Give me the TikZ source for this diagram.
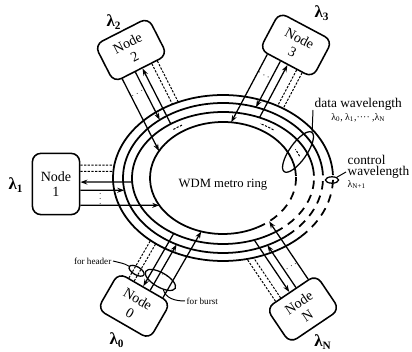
\documentclass[tikz,border=0pt]{standalone}
\usepackage{fontspec}
\setmainfont{Liberation Serif}
\usetikzlibrary{arrows.meta, calc, intersections, shapes.geometric}

\begin{document}
\begin{tikzpicture}[
  x=0.025cm, y=0.025cm,
  ring/.style={line width=1.25pt},
  ringdash/.style={ring, dash pattern=on 6pt off 4.5pt},
  station/.style={draw, line width=1.1pt, rounded corners=6pt,
                  minimum width=1.5cm, minimum height=1.05cm, align=center,
                  font=\fontsize{10}{11}\selectfont, inner sep=1pt},
  link/.style={line width=0.9pt},
  hdr/.style={line width=0.7pt, dash pattern=on 1.6pt off 1pt},
  addlink/.style={link, -{Stealth[length=5pt, width=3.5pt]}},
  droplink/.style={link, {Stealth[length=5pt, width=3.5pt]}-},
  marker/.style={draw, ellipse, line width=0.9pt, inner sep=0pt},
  leader/.style={line width=0.7pt},
  lam/.style={font=\fontsize{12}{14}\selectfont\bfseries, inner sep=1pt},
  note/.style={font=\fontsize{9.5}{8}\selectfont, inner sep=1pt},
  smalltext/.style={font=\fontsize{6.5}{8}\selectfont, inner sep=1pt}
]
\useasboundingbox (0,0) rectangle (412,352);

% ring: three data fibres inside, control fibre outside
\coordinate (c) at (223,174);
\foreach \rn/\rx/\ry/\de in {r0/73/56/-62, r1/91/66/-55, r2/100/75/-50, r3/110/83/-45} {
  \path[name path global=\rn] (c) ellipse [x radius=\rx, y radius=\ry];
  \draw[ring] ($(c)+(2:{\rx} and {\ry})$) arc[start angle=2, end angle=360+\de, x radius=\rx, y radius=\ry];
  \draw[ringdash] ($(c)+(\de:{\rx} and {\ry})$) arc[start angle=\de, end angle=2, x radius=\rx, y radius=\ry];
}
\node[font=\fontsize{9}{11}\selectfont] (ringtxt) at (223,167) {WDM metro ring};

% nodes round the ring
\node[station, minimum width=1.18cm, minimum height=1.53cm] (n1) at (56,168) {Node\\1};
\node[station, rotate=27] (n2) at (131,302) {Node\\2};
\node[station, rotate=-28] (n3) at (296,307) {Node\\3};
\node[station, rotate=-30] (n0) at (134,46) {Node\\0};
\node[station, rotate=34] (nN) at (303,43) {Node\\N};

\node[lam] (l1) at (16,167) {λ\textsubscript{1}};
\node[lam] (l2) at (114,330) {λ\textsubscript{2}};
\node[lam] (l3) at (322,339) {λ\textsubscript{3}};
\node[lam] (l0) at (117,12) {λ\textsubscript{0}};
\node[lam] (lN) at (323,10) {λ\textsubscript{N}};

% header and burst links, cut where they meet their fibre
\foreach \n/\p/\q/\dir in {n1/north east/south east/0, n2/south east/south west/297,
                           n3/south east/south west/242, n0/north west/north east/60,
                           nN/north west/north east/124} {
  \foreach \fr/\rg/\st in {.2/r3/hdr, .3/r3/hdr, .47/r1/droplink, .6/r2/addlink, .84/r0/addlink} {
    \coordinate (s) at ($(\n.\p)!\fr!(\n.\q)$);
    \path[name path=ray] (s) -- ++(\dir:200);
    \draw[\st, name intersections={of=ray and \rg, sort by=ray}] (s) -- (intersection-1);
  }
  \node[rotate=\dir+90, font=\fontsize{6}{7}\selectfont, inner sep=0pt] (dots\n)
    at ($(\n.\p)!.73!(\n.\q)+(\dir:20)$) {$\cdots$};
}

% bursts travelling on the inner fibres
\draw[hdr] ($(c)+(120:82 and 61)$) arc[start angle=120, end angle=128, x radius=82, y radius=61];
\draw[hdr] ($(c)+(52:82 and 61)$) arc[start angle=52, end angle=63, x radius=82, y radius=61];
\draw[hdr] ($(c)+(21:82 and 61)$) arc[start angle=21, end angle=28, x radius=82, y radius=61];

% labels
\node[marker, rotate=-30, minimum width=0.42cm, minimum height=0.2cm] (hdrmark)
  at ($(n0.north west)!.25!(n0.north east)+(60:10)$) {};
\node[marker, rotate=-30, minimum width=0.85cm, minimum height=0.36cm] (burstmark)
  at ($(n0.north west)!.66!(n0.north east)+(60:14)$) {};
\node[smalltext, anchor=east] (hdrtxt) at (113,91) {for header};
\node[smalltext, anchor=west] (bursttxt) at (185,51) {for burst};
\draw[leader] (hdrtxt.east) to[out=-15, in=165] (hdrmark);
\draw[leader] (burstmark) to[out=-60, in=180] (bursttxt.west);

\node[marker, rotate=55, minimum width=1.2cm, minimum height=0.43cm] (datamark) at (298,200) {};
\node[note, anchor=west, align=center] (datatxt) at (313,242)
  {data wavelength\\[1pt]{\fontsize{7}{8}\selectfont λ\textsubscript{0}, λ\textsubscript{1},···· ,λ\textsubscript{N}}};
\draw[leader] (datamark.east) -- (datatxt.west);

\node[marker, minimum width=0.33cm, minimum height=0.16cm] (ctlmark) at (332,172) {};
\node[note, anchor=west, align=left] (ctltxt) at (346,180)
  {control\\wavelength\\{\fontsize{7}{8}\selectfont λ\textsubscript{N+1}}};
\draw[leader] (ctlmark) -- (ctltxt.west);
\end{tikzpicture}
\end{document}
